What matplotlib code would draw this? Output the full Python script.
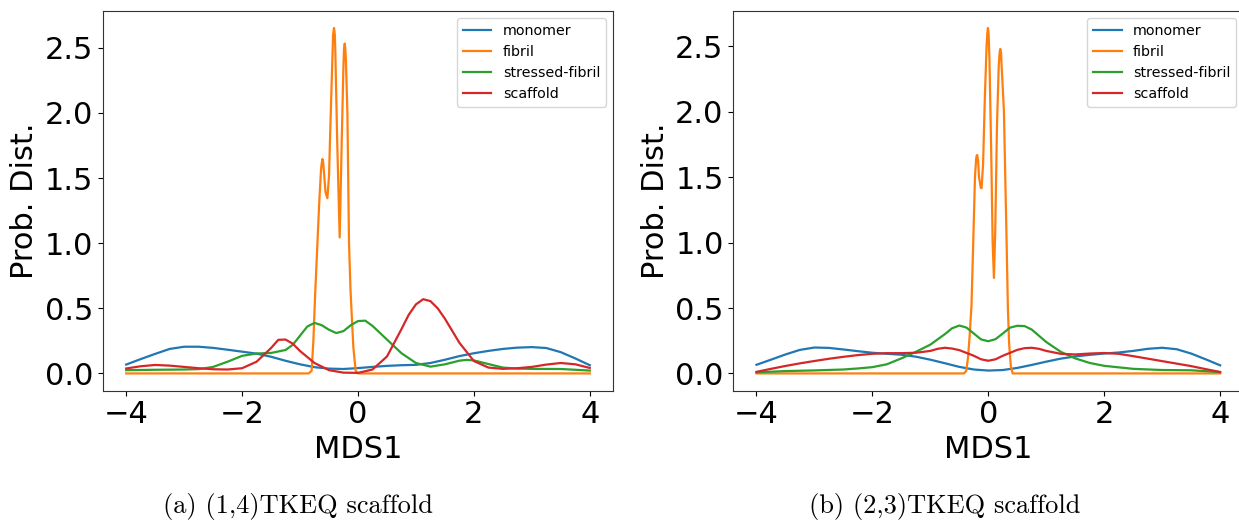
import numpy as np
import matplotlib
matplotlib.use("Agg")
import matplotlib.pyplot as plt

labels = ["monomer", "fibril", "stressed-fibril", "scaffold"]
colors = ["#1f77b4", "#ff7f0e", "#2ca02c", "#d62728"]
captions = ["(a) (1,4)TKEQ scaffold", "(b) (2,3)TKEQ scaffold"]
xticks = [-4, -2, 0, 2, 4]
yticks = [0.0, 0.5, 1.0, 1.5, 2.0, 2.5]

grid = [-4, -3.75, -3.5, -3.25, -3, -2.75, -2.5, -2.25, -2, -1.75, -1.5, -1.25, -1,
        -0.75, -0.5, -0.25, 0, 0.25, 0.5, 0.75, 1, 1.25, 1.5, 1.75, 2, 2.25, 2.5,
        2.75, 3, 3.25, 3.5, 3.75, 4]

# ---------------- panel (a) ----------------
a_monomer_x = grid
a_monomer_y = [0.068, 0.11, 0.15, 0.188, 0.205, 0.205, 0.196, 0.182, 0.167, 0.152, 0.128,
               0.097, 0.07, 0.048, 0.037, 0.034, 0.041, 0.05, 0.058, 0.063, 0.066, 0.08,
               0.105, 0.133, 0.155, 0.173, 0.188, 0.198, 0.202, 0.195, 0.163, 0.115, 0.063]

a_fibril_x = [-4, -0.85, -0.8, -0.77, -0.74, -0.7, -0.67, -0.64, -0.63, -0.614, -0.6, -0.59,
              -0.56, -0.528, -0.5, -0.47, -0.44, -0.43, -0.414, -0.4, -0.39, -0.36, -0.316,
              -0.28, -0.25, -0.24, -0.229, -0.22, -0.21, -0.183, -0.155, -0.13, -0.114,
              -0.08, -0.04, 0.0, 4]
a_fibril_y = [0, 0, 0.02, 0.25, 0.6, 1.0, 1.3, 1.55, 1.6, 1.646, 1.62, 1.56,
              1.39, 1.345, 1.52, 2.0, 2.45, 2.6, 2.652, 2.6, 2.45, 1.8, 1.044,
              1.8, 2.38, 2.5, 2.532, 2.5, 2.42, 2.0, 1.0, 0.65, 0.5,
              0.2, 0.02, 0, 0]

a_stressed_x = [-4, -3.5, -3, -2.75, -2.5, -2.25, -2, -1.75, -1.5, -1.25, -1.125, -1, -0.875,
                -0.75, -0.625, -0.5, -0.375, -0.25, -0.125, 0, 0.125, 0.25, 0.5, 0.75, 1,
                1.25, 1.5, 1.75, 1.875, 2, 2.25, 2.5, 2.75, 3, 3.5, 4]
a_stressed_y = [0.025, 0.028, 0.03, 0.033, 0.05, 0.09, 0.135, 0.153, 0.157, 0.18, 0.22, 0.29,
                0.36, 0.388, 0.37, 0.335, 0.31, 0.325, 0.37, 0.402, 0.405, 0.365, 0.26, 0.155,
                0.08, 0.052, 0.07, 0.098, 0.104, 0.1, 0.072, 0.045, 0.037, 0.035, 0.034, 0.022]

a_scaffold_x = [-4, -3.75, -3.5, -3.25, -3, -2.75, -2.5, -2.25, -2, -1.75, -1.5, -1.375, -1.25,
                -1.125, -1, -0.75, -0.5, -0.25, 0, 0.25, 0.5, 0.75, 0.875, 1, 1.125, 1.25,
                1.375, 1.5, 1.75, 2, 2.25, 2.5, 2.75, 3, 3.25, 3.5, 3.75, 4]
a_scaffold_y = [0.038, 0.055, 0.065, 0.06, 0.05, 0.04, 0.032, 0.03, 0.04, 0.09, 0.195, 0.258,
                0.26, 0.228, 0.172, 0.08, 0.025, 0.006, 0.004, 0.03, 0.13, 0.34, 0.45, 0.53,
                0.57, 0.555, 0.5, 0.42, 0.235, 0.095, 0.045, 0.035, 0.04, 0.05, 0.068, 0.08,
                0.07, 0.042]

# ---------------- panel (b) ----------------
b_monomer_x = grid
b_monomer_y = [0.066, 0.105, 0.145, 0.18, 0.198, 0.195, 0.183, 0.17, 0.158, 0.15, 0.143,
               0.128, 0.105, 0.078, 0.05, 0.03, 0.022, 0.026, 0.042, 0.065, 0.09, 0.113,
               0.13, 0.142, 0.152, 0.16, 0.172, 0.188, 0.196, 0.185, 0.152, 0.108, 0.062]

b_fibril_x = [-4, -0.42, -0.38, -0.35, -0.32, -0.29, -0.26, -0.23, -0.21, -0.2, -0.19, -0.175,
              -0.16, -0.13, -0.116, -0.09, -0.06, -0.03, -0.017, -0.007, 0.005, 0.02, 0.05,
              0.075, 0.097, 0.12, 0.15, 0.18, 0.195, 0.207, 0.22, 0.23, 0.27, 0.295, 0.316,
              0.338, 0.36, 0.39, 0.42, 4]
b_fibril_y = [0, 0, 0.02, 0.12, 0.3, 0.52, 1.0, 1.5, 1.64, 1.665, 1.669, 1.62,
              1.5, 1.42, 1.415, 1.6, 2.1, 2.5, 2.6, 2.64, 2.6, 2.4, 1.7,
              1.0, 0.73, 1.1, 1.9, 2.35, 2.45, 2.48, 2.45, 2.35, 2.0, 1.45, 1.0,
              0.5, 0.22, 0.05, 0, 0]

b_stressed_x = [-4, -3.5, -3, -2.5, -2.25, -2, -1.75, -1.5, -1.25, -1, -0.75, -0.625, -0.5,
                -0.375, -0.25, -0.125, 0, 0.125, 0.25, 0.375, 0.5, 0.625, 0.75, 1, 1.25,
                1.5, 1.75, 2, 2.5, 3, 3.5, 4]
b_stressed_y = [0.008, 0.018, 0.023, 0.03, 0.038, 0.048, 0.07, 0.115, 0.165, 0.22, 0.3, 0.345,
                0.366, 0.35, 0.305, 0.26, 0.246, 0.262, 0.305, 0.35, 0.364, 0.362, 0.335,
                0.24, 0.165, 0.115, 0.08, 0.058, 0.035, 0.026, 0.024, 0.01]

b_scaffold_x = [-4, -3.75, -3.5, -3.25, -3, -2.75, -2.5, -2.25, -2, -1.75, -1.5, -1.25, -1,
                -0.875, -0.75, -0.625, -0.5, -0.25, -0.125, 0, 0.125, 0.25, 0.5, 0.625, 0.75,
                0.875, 1, 1.25, 1.5, 1.75, 2, 2.25, 2.5, 2.75, 3, 3.25, 3.5, 3.75, 4]
b_scaffold_y = [0.012, 0.035, 0.057, 0.077, 0.095, 0.112, 0.127, 0.14, 0.15, 0.155, 0.155,
                0.158, 0.172, 0.188, 0.196, 0.19, 0.178, 0.135, 0.108, 0.097, 0.108, 0.135,
                0.18, 0.193, 0.196, 0.188, 0.172, 0.15, 0.145, 0.152, 0.156, 0.15, 0.132,
                0.113, 0.094, 0.075, 0.056, 0.033, 0.011]

panels = [
    [(a_monomer_x, a_monomer_y), (a_fibril_x, a_fibril_y),
     (a_stressed_x, a_stressed_y), (a_scaffold_x, a_scaffold_y)],
    [(b_monomer_x, b_monomer_y), (b_fibril_x, b_fibril_y),
     (b_stressed_x, b_stressed_y), (b_scaffold_x, b_scaffold_y)],
]

W, H = 1239, 522
fig = plt.figure(figsize=(W / 100, H / 100), dpi=100)
axes_px = [(103, 10.7, 510, 380), (733.3, 10.7, 510, 380)]
caption_pos = [(298, 507), (945, 507)]

for (l, t, w, h), series, cap, cpos in zip(axes_px, panels, captions, caption_pos):
    ax = fig.add_axes([l / W, (H - t - h) / H, w / W, h / H])
    for (xs, ys), lab, col in zip(series, labels, colors):
        ax.plot(xs, ys, color=col, lw=1.6, label=lab)
    ax.set_xticks(xticks)
    ax.set_yticks(yticks)
    ax.tick_params(labelsize=22)
    for s in ax.spines.values():
        s.set_edgecolor("#333333")
    ax.set_xlabel("MDS1", fontsize=22)
    ax.set_ylabel("Prob. Dist.", fontsize=22)
    ax.legend(loc="upper right", fontsize=10.3)
    fig.text(cpos[0] / W, 1 - cpos[1] / H, cap, ha="center", va="center",
             fontsize=19, family="cmr10")

fig.savefig("out.png", dpi=100)
